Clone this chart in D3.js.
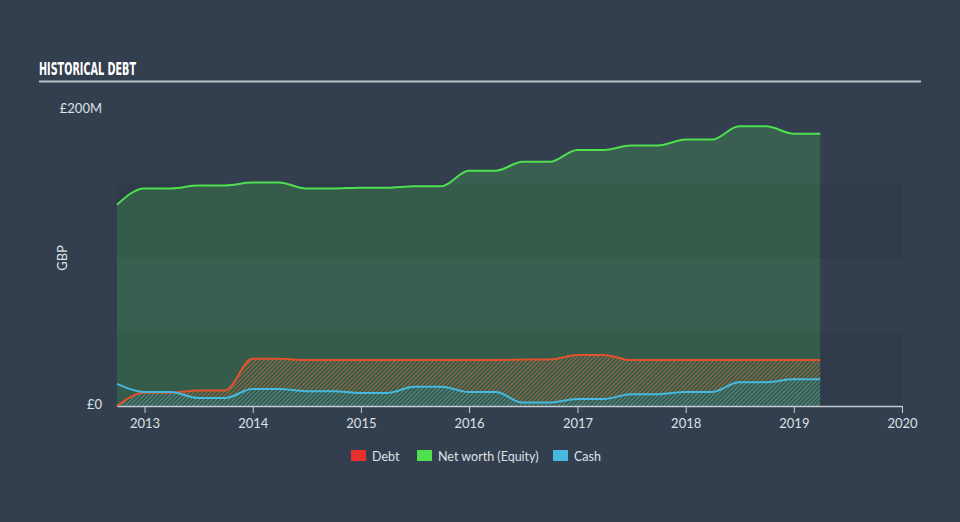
<!DOCTYPE html>
<html>
<head>
<meta charset="utf-8">
<script src="https://cdn.jsdelivr.net/npm/d3@7"></script>
<style>
  body { margin: 0; background: #333f4f; }
  svg { display: block; }
</style>
</head>
<body>
<script>
'use strict';

var width = 960;
var height = 522;

// quarter end dates and values (GBP millions)
var dates = [
  '2012-09-30','2012-12-31','2013-03-31','2013-06-30','2013-09-30',
  '2013-12-31','2014-03-31','2014-06-30','2014-09-30','2014-12-31',
  '2015-03-31','2015-06-30','2015-09-30','2015-12-31','2016-03-31',
  '2016-06-30','2016-09-30','2016-12-31','2017-03-31','2017-06-30',
  '2017-09-30','2017-12-31','2018-03-31','2018-06-30','2018-09-30',
  '2018-12-31','2019-03-31'
];
var equity = [136, 147, 147, 149, 149, 151, 151, 147, 147, 147.5, 147.5, 148.5, 148.5,
  159, 159, 165, 165, 173, 173, 176, 176, 180, 180, 189, 189, 184, 184];
var debt = [0, 9, 9, 10.5, 10.5, 32, 32, 31, 31, 31, 31, 31, 31,
  31, 31, 31.5, 31.5, 34.5, 34.5, 31, 31, 31, 31, 31, 31, 31, 31];
var cash = [15, 9.5, 9.5, 5.4, 5.4, 11.5, 11.5, 10, 10, 8.8, 8.8, 13, 13,
  9.5, 9.5, 2.3, 2.3, 4.7, 4.7, 8, 8, 9.5, 9.5, 16, 16, 18, 18];

var yTicks = [0, 200];
var yTickLabels = ['£0', '£200M'];
var bands = [[0, 50], [100, 150]];
var legendItems = [
  { name: 'Debt', color: '#e8302a' },
  { name: 'Net worth (Equity)', color: '#4fe04f' },
  { name: 'Cash', color: '#46b9de' }
];

var parse = d3.timeParse('%Y-%m-%d');
var data = dates.map(function(d, i){
  return { date: parse(d), equity: equity[i], debt: debt[i], cash: cash[i] };
});

var x = d3.scaleTime()
  .domain([parse('2012-09-30'), parse('2020-01-01')])
  .range([117, 902]);
var y = d3.scaleLinear()
  .domain([0, 200])
  .range([406, 110]);

var svg = d3.select('body').append('svg')
  .attr('width', width)
  .attr('height', height);

var defs = svg.append('defs');
var makeHatch = function(id, color){
  var p = defs.append('pattern')
    .attr('id', id)
    .attr('patternUnits', 'userSpaceOnUse')
    .attr('width', 3)
    .attr('height', 3)
    .attr('patternTransform', 'rotate(45)');
  p.append('line')
    .attr('x1', 0).attr('y1', 0).attr('x2', 0).attr('y2', 3)
    .attr('stroke', color)
    .attr('stroke-width', 1.6);
};
makeHatch('hatch-debt', '#bd6c3e');
makeHatch('hatch-cash', '#5f949f');

// title
svg.append('text')
  .attr('x', 39)
  .attr('y', 75)
  .attr('fill', '#ffffff')
  .attr('font-family', '"Liberation Sans Narrow", "DejaVu Sans Condensed", sans-serif')
  .attr('font-weight', 'bold')
  .attr('font-size', 17)
  .attr('textLength', 97)
  .attr('lengthAdjust', 'spacingAndGlyphs')
  .text('HISTORICAL DEBT');

svg.append('line')
  .attr('x1', 39).attr('x2', 921)
  .attr('y1', 81.5).attr('y2', 81.5)
  .attr('stroke', '#b9bfc6')
  .attr('stroke-width', 2);

// background bands
svg.selectAll('.band').data(bands).enter().append('rect')
  .attr('class', 'band')
  .attr('x', x.range()[0])
  .attr('width', x.range()[1] - x.range()[0])
  .attr('y', function(d){ return y(d[1]); })
  .attr('height', function(d){ return y(d[0]) - y(d[1]); })
  .attr('fill', '#2f3a4a');

var curve = d3.curveMonotoneX;
var xv = function(d){ return x(d.date); };
var line = function(key){
  return d3.line()
    .x(xv)
    .y(function(d){ return y(d[key]); })
    .curve(curve);
};

svg.append('path')
  .attr('d', d3.area().x(xv).y0(y(0)).y1(function(d){ return y(d.equity); }).curve(curve)(data))
  .attr('fill', '#4fe04f')
  .attr('fill-opacity', 0.2);
// debt hatch between cash and debt, cash hatch below
svg.append('path')
  .attr('d', d3.area().x(xv)
    .y0(function(d){ return y(Math.min(d.cash, d.debt)); })
    .y1(function(d){ return y(d.debt); }).curve(curve)(data))
  .attr('fill', 'url(#hatch-debt)');
svg.append('path')
  .attr('d', d3.area().x(xv).y0(y(0)).y1(function(d){ return y(Math.min(d.cash, d.debt)); }).curve(curve)(data))
  .attr('fill', 'url(#hatch-cash)');

svg.append('path')
  .attr('d', line('equity')(data))
  .attr('fill', 'none')
  .attr('stroke', '#4fe04f')
  .attr('stroke-width', 2);
svg.append('path')
  .attr('d', line('debt')(data))
  .attr('fill', 'none')
  .attr('stroke', '#e2522c')
  .attr('stroke-width', 2);
svg.append('path')
  .attr('d', line('cash')(data))
  .attr('fill', 'none')
  .attr('stroke', '#46b9de')
  .attr('stroke-width', 2);

// x axis
var xAxis = d3.axisBottom(x)
  .ticks(d3.timeYear.every(1))
  .tickFormat(d3.timeFormat('%Y'))
  .tickSize(7)
  .tickSizeOuter(0);
var gx = svg.append('g')
  .attr('transform', 'translate(0,' + y(0) + ')')
  .call(xAxis);
gx.select('.domain').attr('stroke', '#c5cad1').attr('stroke-width', 1.5);
gx.selectAll('.tick line').attr('stroke', '#c5cad1');
gx.selectAll('.tick text')
  .attr('fill', '#dde1e6')
  .attr('font-family', 'Lato, sans-serif')
  .attr('font-size', 13)
  .attr('dy', '0.9em');

// y labels
svg.selectAll('.ylab').data(yTicks).enter().append('text')
  .attr('class', 'ylab')
  .attr('x', 102)
  .attr('y', function(d){ return y(d) + 3; })
  .attr('text-anchor', 'end')
  .attr('fill', '#dde1e6')
  .attr('font-family', 'Lato, sans-serif')
  .attr('font-size', 13)
  .text(function(d, i){ return yTickLabels[i]; });

svg.append('text')
  .attr('transform', 'translate(67,258) rotate(-90)')
  .attr('text-anchor', 'middle')
  .attr('fill', '#dde1e6')
  .attr('font-family', 'Lato, sans-serif')
  .attr('font-size', 13)
  .text('GBP');

// legend
var legendX = [351, 417, 553];
var lg = svg.selectAll('.legend').data(legendItems).enter().append('g')
  .attr('class', 'legend')
  .attr('transform', function(d, i){ return 'translate(' + legendX[i] + ',450)'; });
lg.append('rect')
  .attr('width', 15)
  .attr('height', 11)
  .attr('fill', function(d){ return d.color; });
lg.append('text')
  .attr('x', 21)
  .attr('y', 10.5)
  .attr('fill', '#dde1e6')
  .attr('font-family', 'Lato, sans-serif')
  .attr('font-size', 12.5)
  .text(function(d){ return d.name; });
</script>
</body>
</html>
